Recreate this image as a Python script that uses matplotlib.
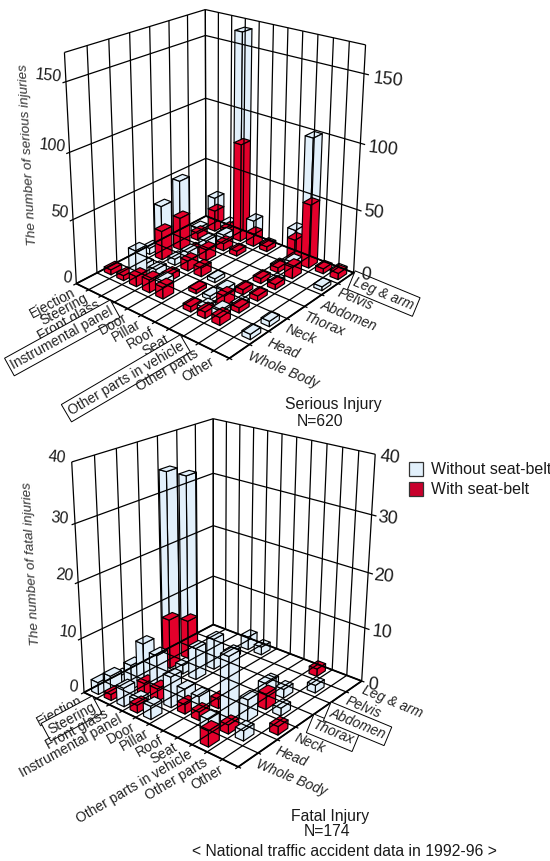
import numpy as np
import matplotlib
matplotlib.use('Agg')
import matplotlib.pyplot as plt
from matplotlib.patches import Rectangle
from mpl_toolkits.mplot3d.art3d import Poly3DCollection, Line3DCollection

plt.rcParams['font.family'] = ['Liberation Sans', 'DejaVu Sans']

categories = ['Ejection', 'Steering', 'Front glass', 'Instrumental panel', 'Door', 'Pillar', 'Roof', 'Seat',
              'Other parts in vehicle', 'Other parts', 'Other']
regions = ['Whole Body', 'Head', 'Neck', 'Thorax', 'Abdomen', 'Pelvis', 'Leg & arm']

# serious injury, one entry per bar: index into categories, index into regions, counts
serious_cat = [0, 1, 2, 3, 4, 3, 2, 1, 0, 1, 1, 1, 1, 2, 3, 4, 5, 7, 8, 9, 10, 8, 7, 4, 3, 3, 3, 2, 4, 2, 5, 5, 6, 7,
               7, 7, 8, 8, 10, 6, 7, 8, 8, 10, 10]
serious_reg = [1, 1, 1, 1, 1, 2, 2, 2, 3, 3, 4, 5, 6, 6, 6, 6, 6, 6, 6, 6, 6, 5, 5, 5, 5, 4, 3, 3, 3, 4, 3, 2, 2, 2,
               3, 4, 3, 4, 5, 1, 1, 1, 2, 2, 1]
serious_with = [4, 4, 8, 10, 9, 5, 0, 0, 0, 23, 26, 6, 17, 6, 79, 10, 4, 18, 50, 4, 5, 9, 4, 4, 6, 9, 8, 0, 7, 4, 0,
                3, 0, 8, 4, 4, 4, 4, 0, 4, 5, 6, 4, 0, 0]
serious_without = [0, 0, 20, 0, 5, 0, 5, 4, 5, 20, 30, 4, 11, 4, 86, 11, 1, 8, 51, 0, 1, 4, 1, 0, 7, 7, 7, 5, 0, 0,
                   3, 0, 3, 5, 0, 0, 0, 2, 3, 0, 3, 5, 2, 4, 4]

# fatal injury
fatal_cat = [1, 1, 0, 1, 1, 2, 2, 3, 3, 4, 4, 5, 6, 8, 8, 6, 7, 3, 3, 2, 8, 9, 10, 8, 9, 8, 8, 9, 3, 4, 7, 7, 3, 0]
fatal_reg = [3, 4, 0, 0, 1, 0, 1, 1, 0, 0, 1, 1, 1, 0, 1, 2, 1, 3, 4, 3, 2, 1, 2, 3, 3, 4, 6, 5, 6, 6, 4, 2, 5, 1]
fatal_with = [9.3, 7.3, 0, 1.1, 0, 0, 2.2, 2.3, 1.4, 0, 0, 1.7, 1.5, 2.8, 1.6, 1.7, 1.2, 0, 0, 0, 0, 0, 1.5, 2.8, 0,
              0, 1.4, 0, 0, 0, 0, 1.5, 0, 0]
fatal_without = [26.5, 26.6, 2.2, 3.4, 4.5, 3.4, 7.3, 6.1, 1.0, 2.4, 5.6, 2.8, 2.8, 2.0, 11.9, 0, 0, 5.9, 5.8, 1.6,
                 3.9, 1.8, 0, 1.9, 1.4, 1.6, 0, 1.4, 2.5, 1.5, 1.9, 0, 1.3, 1.3]

# where the box corners and wall ticks land on the page (cat, region, z, px, py)
serious_view = [(0, 0, 0, 76.7, 283.3), (11, 0, 0, 230, 358.3), (11, 7, 0, 353.3, 273.3), (0, 7, 0, 205.7, 216),
                (0, 7, 50, 205.7, 158.3), (0, 7, 100, 205.7, 98.3), (0, 7, 150, 205.7, 35.7), (0, 7, 170, 205.7, 9.3),
                (0, 0, 50, 72.7, 219.3), (0, 0, 100, 69, 152.7), (0, 0, 150, 66, 81.7), (0, 0, 170, 64.3, 52.7),
                (11, 7, 50, 357, 210), (11, 7, 100, 360.3, 141.7), (11, 7, 150, 363.3, 74), (11, 7, 170, 366, 45)]
fatal_view = [(0, 0, 0, 84, 691.7), (11, 0, 0, 238.3, 767.3), (11, 7, 0, 361.7, 681), (0, 7, 0, 213.3, 625),
              (0, 7, 10, 213.3, 576), (0, 7, 20, 213.3, 526), (0, 7, 30, 213.3, 473.3), (0, 7, 40, 213.3, 418.3),
              (0, 0, 10, 81.7, 639), (0, 0, 20, 77.3, 582.3), (0, 0, 30, 75, 523.3), (0, 0, 40, 72, 462.3),
              (11, 7, 10, 364.7, 627.3), (11, 7, 20, 368.3, 572.7), (11, 7, 30, 371.7, 515), (11, 7, 40, 375, 454.3)]

LIGHT = '#E2F0FB'
RED = '#E4002B'
W = 0.27

fig = plt.figure(figsize=(5.5, 8.61), dpi=100)


def pg(px, py):
    return px / 550, 1 - py / 861


def label(px, py, s, **kw):
    fig.text(*pg(px, py), s, ha=kw.pop('ha', 'center'), va='center', color=kw.pop('color', '#1a1a1a'), **kw)


def make_panel(y_top, view):
    ax = fig.add_axes([0, (861 - y_top - 550) / 861, 1, 550 / 861], projection='3d', computed_zorder=False)
    ax.set_axis_off()
    ax.set_facecolor('none')
    ax.apply_aspect()
    # fit a camera to the page positions and use it as the projection of this axes
    uv = ax.transData.inverted().transform([(v[3], 861 - v[4]) for v in view])
    rows = []
    for (a, b, c, _, _), (u, v) in zip(view, uv):
        rows.append([a, b, c, 1, 0, 0, 0, 0, -u * a, -u * b, -u * c, -u])
        rows.append([0, 0, 0, 0, a, b, c, 1, -v * a, -v * b, -v * c, -v])
    P = np.linalg.svd(np.array(rows))[2][-1].reshape(3, 4)
    M = np.array([P[0], P[1], [0.001, -0.001, 0.0001, 0.5], P[2]])
    ax.get_proj = lambda: M
    ax.M = M
    return ax


def box(ax, i, j, z0, z1, color):
    x0, x1 = i + 0.5 - W, i + 0.5 + W
    y0, y1 = j + 0.5 - W, j + 0.5 + W
    faces = [[(x0, y0, z1), (x1, y0, z1), (x1, y1, z1), (x0, y1, z1)],
             [(x0, y0, z0), (x1, y0, z0), (x1, y0, z1), (x0, y0, z1)],
             [(x1, y0, z0), (x1, y1, z0), (x1, y1, z1), (x1, y0, z1)]]
    ax.add_collection3d(Poly3DCollection(faces, facecolors=color, edgecolors='black', linewidths=0.85), autolim=False)


def floor_text(ax, i, j, s, rotation, ha, boxed, **kw):
    h = ax.M @ np.array([i, j, 0, 1])
    bbox = dict(boxstyle='square,pad=0.22', fc='white', ec='black', lw=0.7) if boxed else None
    ax.text2D(h[0] / h[3], h[1] / h[3], s, transform=ax.transData, rotation=rotation, rotation_mode='anchor',
              ha=ha, va='center', fontsize=10, color='#222222', bbox=bbox, **kw)


def draw_panel(ax, cat, reg, with_belt, without_belt, zticks, ztop, boxed):
    segs = []
    for i in range(12):
        segs.append([(i, -0.14, 0), (i, 7, 0)])
        segs.append([(i, 7, 0), (i, 7, ztop)])
    for j in range(8):
        segs.append([(0, j, 0), (11.18, j, 0)])
        segs.append([(0, j, 0), (0, j, ztop)])
    for z in zticks:
        segs.append([(0, -0.15, z), (0, 7, z)])
        segs.append([(0, 7, z), (11.3, 7, z)])
    segs.append([(0, 0, ztop), (0, 7, ztop)])
    segs.append([(0, 7, ztop), (11, 7, ztop)])
    ax.add_collection3d(Line3DCollection(segs, colors='black', linewidths=0.9), autolim=False)
    edge = [[(0, 0, 0), (11, 0, 0)], [(11, 0, 0), (11, 7, 0)], [(11, 7, 0), (0, 7, 0)], [(0, 7, 0), (0, 0, 0)]]
    ax.add_collection3d(Line3DCollection(edge, colors='black', linewidths=1.3), autolim=False)
    order = sorted(range(len(cat)), key=lambda n: (cat[n], -reg[n]))
    for n in order:
        if without_belt[n] > 0:
            box(ax, cat[n], reg[n], with_belt[n], with_belt[n] + without_belt[n], LIGHT)
        if with_belt[n] > 0:
            box(ax, cat[n], reg[n], 0, with_belt[n], RED)
    for i, s in enumerate(categories):
        floor_text(ax, i + 0.5, -0.4, s, 28 + 0.3 * i, 'right', s in boxed)
    for j, s in enumerate(regions):
        floor_text(ax, 11.55, j + 0.5, s, -22.5, 'left', s in boxed, style='italic')


ax1 = make_panel(-60, serious_view)
draw_panel(ax1, serious_cat, serious_reg, serious_with, serious_without, [50, 100, 150], 170,
           ['Instrumental panel', 'Other parts in vehicle', 'Leg & arm'])
ax2 = make_panel(350, fatal_view)
draw_panel(ax2, fatal_cat, fatal_reg, fatal_with, fatal_without, [10, 20, 30], 40,
           ['Steering', 'Abdomen', 'Thorax'])

for s, x, y in zip(['150', '100', '50', '0'], [48, 52, 60, 67], [76, 146, 212, 278]):
    label(x, y, s, fontsize=11.5, rotation=-6)
for s, x, y in zip(['150', '100', '50', '0'], [388, 383, 374, 366], [80, 149, 213, 275]):
    label(x, y, s, fontsize=13, rotation=-6)
for s, x, y in zip(['40', '30', '20', '10', '0'], [57, 60, 64, 68, 73], [457, 518, 575, 632, 687]):
    label(x, y, s, fontsize=11.5, rotation=-6)
for s, x, y in zip(['40', '30', '20', '10', '0'], [390, 388, 384, 382, 373], [458, 519, 577, 633, 685]):
    label(x, y, s, fontsize=13, rotation=-6)

label(28, 155, 'The number of serious injuries', fontsize=9.7, style='italic', rotation=93, color='#333333')
label(32, 564, 'The number of fatal injuries', fontsize=9.7, style='italic', rotation=93, color='#333333')

label(333, 405, 'Serious Injury', fontsize=11.3)
label(320, 421, 'N=620', fontsize=11.3)
label(330, 816, 'Fatal Injury', fontsize=11.3)
label(327, 832, 'N=174', fontsize=11.3)
label(344, 852, '< National traffic accident data in 1992-96 >', fontsize=11.3)

for y, c, s in [(462, LIGHT, 'Without seat-belt'), (482, '#C8002C', 'With seat-belt')]:
    fig.add_artist(Rectangle(pg(408.5, y + 13.5), 14 / 550, 13.5 / 861, transform=fig.transFigure,
                             fc=c, ec='#333333', lw=0.9))
    label(431, y + 8, s, fontsize=11.5, ha='left')

fig.savefig('out.png', dpi=100)
